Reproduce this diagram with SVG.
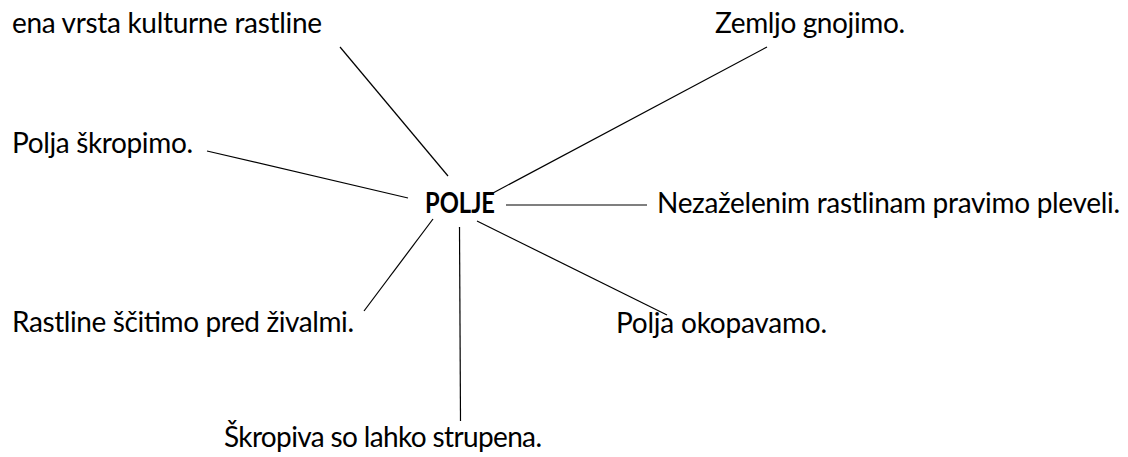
<svg xmlns="http://www.w3.org/2000/svg" width="1128" height="457" viewBox="0 0 1128 457">
<style>
text{font-family:Lato,"Open Sans","Liberation Sans",sans-serif;font-size:28px;fill:#000}
.b{font-weight:bold}
#connectors line{stroke:#000;stroke-width:1.2;fill:none}
</style>
<rect width="1128" height="457" fill="#fff"/>
<g id="connectors">
<line x1="340" y1="47" x2="448" y2="176"/>
<line x1="767" y1="47" x2="493" y2="193"/>
<line x1="207" y1="151" x2="408" y2="198"/>
<line x1="506" y1="205" x2="647" y2="205"/>
<line x1="433" y1="219" x2="364" y2="311"/>
<line x1="459.5" y1="227" x2="460.5" y2="421"/>
<line x1="477" y1="221" x2="667" y2="315"/>
</g>
<g id="center"><text class="b" x="425" y="213" textLength="70" lengthAdjust="spacingAndGlyphs">POLJE</text></g>
<g id="n1"><text x="12" y="33" textLength="310" lengthAdjust="spacing">ena vrsta kulturne rastline</text></g>
<g id="n2"><text x="715" y="33" textLength="190" lengthAdjust="spacing">Zemljo gnojimo.</text></g>
<g id="n3"><text x="12" y="153" textLength="181" lengthAdjust="spacing">Polja škropimo.</text></g>
<g id="n4"><text x="657" y="213" textLength="463" lengthAdjust="spacing">Nezaželenim rastlinam pravimo pleveli.</text></g>
<g id="n5"><text x="12" y="332" textLength="342" lengthAdjust="spacing">Rastline ščitimo pred živalmi.</text></g>
<g id="n6"><text x="616" y="333" textLength="211" lengthAdjust="spacing">Polja okopavamo.</text></g>
<g id="n7"><text x="224" y="447" textLength="318" lengthAdjust="spacing">Škropiva so lahko strupena.</text></g>
</svg>
